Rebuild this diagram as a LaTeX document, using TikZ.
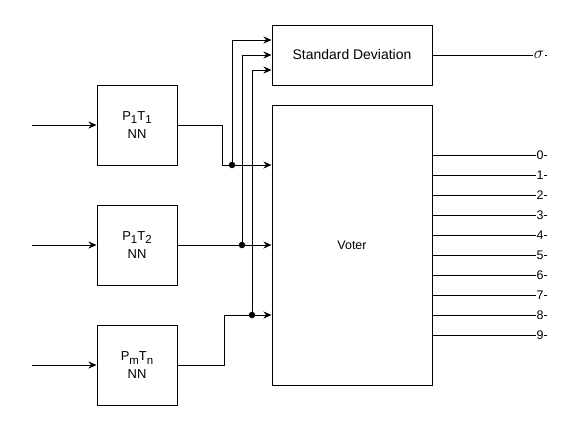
\documentclass[tikz,border=0pt]{standalone}
\usepackage{fontspec}
\setmainfont{Liberation Sans}
\usepackage{tikz}
\usetikzlibrary{arrows.meta, positioning, calc}
\newcommand{\subidx}[1]{\raisebox{-3.5bp}{\fontsize{11.5}{11.5}\selectfont #1}}

\begin{document}
\begin{tikzpicture}[x=1bp, y=-1bp, line width=1bp,
  nnbox/.style={draw, minimum width=80bp, minimum height=80bp, inner sep=0pt, align=center, font=\fontsize{13}{18}\selectfont},
  bigbox/.style={draw, minimum width=160bp, inner sep=0pt},
  arr/.style={-{Stealth[length=8bp, width=7bp]}},
  junction/.style={circle, fill=black, inner sep=0pt, minimum size=6.5bp},
  outlbl/.style={fill=white, inner sep=0.6bp, font=\fontsize{12.5}{12.5}\selectfont}
]
  \useasboundingbox (0,0) rectangle (575,431);

  % Networks
  \node[nnbox] (nn1) at (137,125) {P\subidx{1}T\subidx{1}\\NN};
  \node[nnbox] (nn2) at (137,245) {P\subidx{1}T\subidx{2}\\NN};
  \node[nnbox] (nn3) at (137,365) {P\subidx{m}T\subidx{n}\\NN};

  % Inputs
  \coordinate (in1) at (32,125);
  \coordinate (in2) at (32,245);
  \coordinate (in3) at (32,365);
  \draw[arr] (in1) -- (nn1);
  \draw[arr] (in2) -- (nn2);
  \draw[arr] (in3) -- (nn3);

  % Standard deviation and voter
  \node[bigbox, minimum height=60bp, font=\fontsize{14}{14}\selectfont] (sd) at (352,55) {Standard Deviation};
  \node[bigbox, minimum height=280bp, font=\fontsize{12.5}{12.5}\selectfont] (voter) at (352,245) {Voter};

  % Junctions
  \node[junction] (d1) at (232,165) {};
  \node[junction] (d2) at (242,245) {};
  \node[junction] (d3) at (252,315) {};

  % Network outputs to voter
  \draw[arr] (nn1.east) -| ([xshift=-10bp]d1.center) -- (d1.center -| voter.west);
  \draw[arr] (nn2.east) -- (d2.center -| voter.west);
  \draw[arr] (nn3.east) -| ([xshift=-28bp]d3.center) -- (d3.center -| voter.west);

  % Branches to standard deviation
  \draw[arr] (d1.center) |- ([yshift=15bp]sd.west);
  \draw[arr] (d2.center) |- (sd.west);
  \draw[arr] (d3.center) |- ([yshift=-15bp]sd.west);

  % Outputs
  \coordinate (sig) at (547,55);
  \draw (sd.east) -- (sig) node[outlbl, pos=0.93, font=\fontsize{18}{18}\selectfont] {$\sigma$};
  \foreach \d in {0,...,9} {
    \coordinate (o\d) at (547,{155+20*\d});
    \draw (voter.east |- o\d) -- (o\d) node[outlbl, pos=0.94] {\d};
  }
\end{tikzpicture}
\end{document}
